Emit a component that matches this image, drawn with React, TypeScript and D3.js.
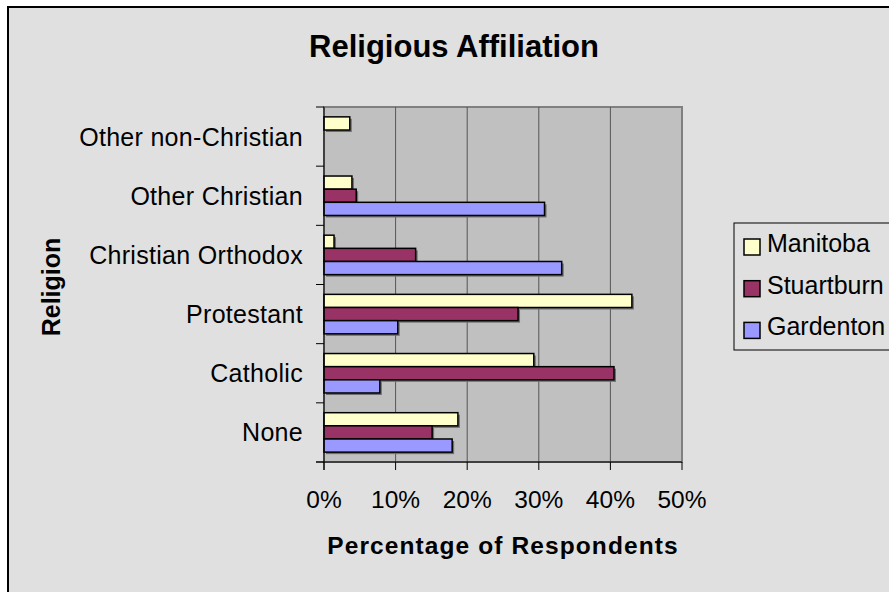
import React from "react";
import * as d3 from "d3";

const categories = ["Other non-Christian", "Other Christian", "Christian Orthodox", "Protestant", "Catholic", "None"];
const seriesNames = ["Manitoba", "Stuartburn", "Gardenton"];
const manitoba = [3.6, 3.9, 1.4, 43.0, 29.3, 18.7];
const stuartburn = [0, 4.5, 12.8, 27.1, 40.5, 15.1];
const gardenton = [0, 30.8, 33.2, 10.3, 7.8, 17.9];
const xTicks = [0, 10, 20, 30, 40, 50];
const colors = ["#FFFFCC", "#993366", "#9999FF"];

const W = 889;
const H = 592;
const FONT = "'Liberation Sans', Arial, sans-serif";

export default function App() {
  const plot = { left: 324, right: 682, top: 107, bottom: 462 };
  const x = d3.scaleLinear().domain([0, 50]).range([plot.left, plot.right]);
  const y = d3.scaleBand<string>().domain(categories).range([plot.top, plot.bottom]).paddingInner(0).paddingOuter(0);
  const inner = d3.scaleBand<string>().domain(seriesNames).range([0, y.bandwidth()]).paddingInner(0).paddingOuter(0.75);
  const series = [manitoba, stuartburn, gardenton];

  const yTickPos = categories.map((c) => y(c) as number).concat([plot.bottom]);

  return (
    <svg width={W} height={H} style={{ position: "absolute", left: 0, top: 0, display: "block" }} fontFamily={FONT}>
      <rect x={0} y={0} width={W} height={H} fill="#FFFFFF" />
      <rect x={8} y={7} width={W + 20} height={H + 20} fill="#E0E0E0" stroke="#000" strokeWidth={2} />
      <text x={454} y={57} textAnchor="middle" fontSize={31} fontWeight="bold" fill="#000">Religious Affiliation</text>

      {/* plot area */}
      <rect x={plot.left} y={plot.top} width={plot.right - plot.left} height={plot.bottom - plot.top} fill="#C0C0C0" stroke="#808080" strokeWidth={2} />
      {xTicks.slice(1, -1).map((t) => (
        <line key={t} x1={x(t)} x2={x(t)} y1={plot.top} y2={plot.bottom} stroke="#555" strokeWidth={1} />
      ))}

      {/* bars */}
      {categories.map((c, ci) =>
        series.map((vals, si) => {
          const v = vals[ci];
          if (!v) return null;
          const by = (y(c) as number) + (inner(seriesNames[si]) as number);
          const bh = inner.bandwidth();
          const bw = x(v) - x(0);
          return (
            <g key={c + si}>
              <rect x={x(0) + 2} y={by + 2} width={bw} height={bh} fill="#6E6E6E" />
              <rect x={x(0)} y={by} width={bw} height={bh} fill={colors[si]} stroke="#000" strokeWidth={1.5} />
            </g>
          );
        })
      )}

      {/* axes */}
      <line x1={plot.left} x2={plot.left} y1={plot.top} y2={plot.bottom + 8} stroke="#000" strokeWidth={1} />
      <line x1={plot.left - 8} x2={plot.right} y1={plot.bottom} y2={plot.bottom} stroke="#000" strokeWidth={1} />
      {yTickPos.map((p, i) => (
        <line key={i} x1={plot.left - 8} x2={plot.left} y1={p} y2={p} stroke="#000" strokeWidth={1} />
      ))}
      {xTicks.map((t) => (
        <g key={t}>
          <line x1={x(t)} x2={x(t)} y1={plot.bottom} y2={plot.bottom + 8} stroke="#000" strokeWidth={1} />
          <text x={x(t)} y={508} textAnchor="middle" fontSize={24.5} fill="#000">{t}%</text>
        </g>
      ))}
      {categories.map((c) => (
        <text key={c} x={303} y={(y(c) as number) + y.bandwidth() / 2} dy="0.36em" textAnchor="end" fontSize={25} letterSpacing={0.3} fill="#000">{c}</text>
      ))}

      <text x={503} y={554} textAnchor="middle" fontSize={24.5} fontWeight="bold" letterSpacing={1.1} fill="#000">Percentage of Respondents</text>
      <text transform={`translate(60,287) rotate(-90)`} textAnchor="middle" fontSize={25} fontWeight="bold" fill="#000">Religion</text>

      {/* legend */}
      <rect x={734} y={223} width={200} height={127} fill="#E0E0E0" stroke="#000" strokeWidth={1} />
      {seriesNames.map((s, i) => (
        <g key={s}>
          <rect x={744} y={239 + i * 41.7} width={16} height={16} fill={colors[i]} stroke="#000" strokeWidth={1.5} />
          <text x={767} y={252 + i * 41.7} fontSize={25} fill="#000">{s}</text>
        </g>
      ))}
    </svg>
  );
}
